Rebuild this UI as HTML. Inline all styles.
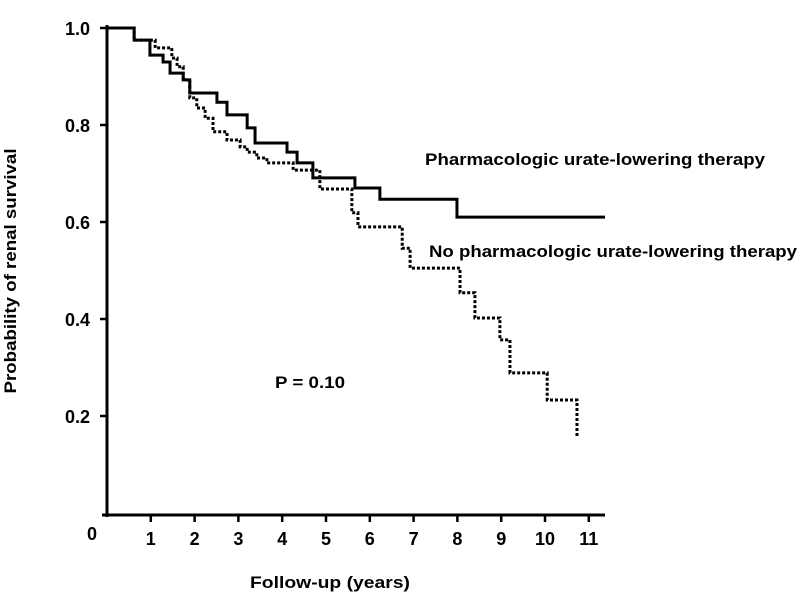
<!DOCTYPE html>
<html><head><meta charset="utf-8"><style>
html,body{margin:0;padding:0;background:#fff;}
svg{display:block;font-family:"Liberation Sans",Arial,sans-serif;font-weight:bold;}
</style></head><body>
<svg id="chart" width="800" height="595" viewBox="0 0 800 595">
<g id="axes"></g>
<g id="series"></g>
<text x="0" y="0" font-size="17" text-anchor="middle" textLength="245" lengthAdjust="spacingAndGlyphs" transform="translate(16,271) rotate(-90)">Probability of renal survival</text>
<text x="330" y="588" font-size="17" text-anchor="middle" textLength="160" lengthAdjust="spacingAndGlyphs">Follow-up (years)</text>
<text x="425" y="165" font-size="17" textLength="340" lengthAdjust="spacingAndGlyphs">Pharmacologic urate-lowering therapy</text>
<text x="429" y="257" font-size="17" textLength="368" lengthAdjust="spacingAndGlyphs">No pharmacologic urate-lowering therapy</text>
<text x="275" y="388" font-size="17" textLength="70" lengthAdjust="spacingAndGlyphs">P = 0.10</text>
</svg>
<script>
const xTicks = [1,2,3,4,5,6,7,8,9,10,11];
const yTicks = [0.2,0.4,0.6,0.8,1.0];
const yTickLabels = ["0.2","0.4","0.6","0.8","1.0"];
const treatedTimes = [0,0.62,0.98,1.28,1.44,1.74,1.89,2.51,2.74,3.20,3.38,4.11,4.34,4.70,5.66,6.23,7.99];
const treatedSurv  = [1,0.975,0.944,0.930,0.907,0.893,0.866,0.847,0.821,0.794,0.763,0.744,0.722,0.691,0.670,0.647,0.610];
const treatedEnd = 11.37;
const untreatedTimes = [0,0.62,1.10,1.48,1.60,1.74,1.89,2.05,2.24,2.42,2.74,3.04,3.20,3.42,3.65,4.25,4.86,5.59,5.73,6.74,6.92,8.06,8.40,8.97,9.20,10.05,10.73];
const untreatedSurv  = [1,0.975,0.959,0.938,0.920,0.893,0.856,0.835,0.814,0.786,0.769,0.755,0.744,0.732,0.722,0.707,0.668,0.619,0.590,0.546,0.505,0.454,0.402,0.357,0.289,0.233,0.157];

const NS='http://www.w3.org/2000/svg';
const X0=107, XS=43.8, Y0=513, YS=485;
const xs=t=>X0+XS*t, ys=s=>Y0-YS*s;
const axes=document.getElementById('axes'), series=document.getElementById('series');
function mk(tag,attrs,parent){const e=document.createElementNS(NS,tag);for(const k in attrs)e.setAttribute(k,attrs[k]);parent.appendChild(e);return e;}

let e=mk('line',{x1:xs(0),y1:ys(1.0)-3,x2:xs(0),y2:517,stroke:'#000','stroke-width':3},axes);


e=mk('line',{x1:xs(0)-5,y1:515,x2:605,y2:515,stroke:'#000','stroke-width':3},axes);


e=mk('text',{x:92,y:540,'font-size':18,'text-anchor':'middle'},axes);e.textContent='0';


xTicks.forEach(t=>{
  let l=mk('line',{x1:xs(t),y1:515,x2:xs(t),y2:522,stroke:'#000','stroke-width':2.5},axes);
  
  
  let tx=mk('text',{x:xs(t),y:545,'font-size':18,'text-anchor':'middle'},axes);tx.textContent=String(t);
  
  
});
yTicks.forEach((v,i)=>{
  let l=mk('line',{x1:xs(0)-7,y1:ys(v),x2:xs(0),y2:ys(v),stroke:'#000','stroke-width':2.5},axes);
  
  
  let tx=mk('text',{x:90,y:ys(v)+7,'font-size':18,'text-anchor':'end'},axes);tx.textContent=yTickLabels[i];
  
  
});
function stepPath(T,S,end){
  let d='M'+xs(T[0])+','+ys(S[0]);
  for(let i=1;i<T.length;i++){d+=' H'+xs(T[i])+' V'+ys(S[i]);}
  if(end!=null)d+=' H'+xs(end);
  return d;
}
e=mk('path',{d:stepPath(treatedTimes,treatedSurv,treatedEnd),fill:'none',stroke:'#000','stroke-width':3},series);


e=mk('path',{d:stepPath(untreatedTimes,untreatedSurv,null),fill:'none',stroke:'#000','stroke-width':3,'stroke-dasharray':'3,2'},series);


</script>
</body></html>
